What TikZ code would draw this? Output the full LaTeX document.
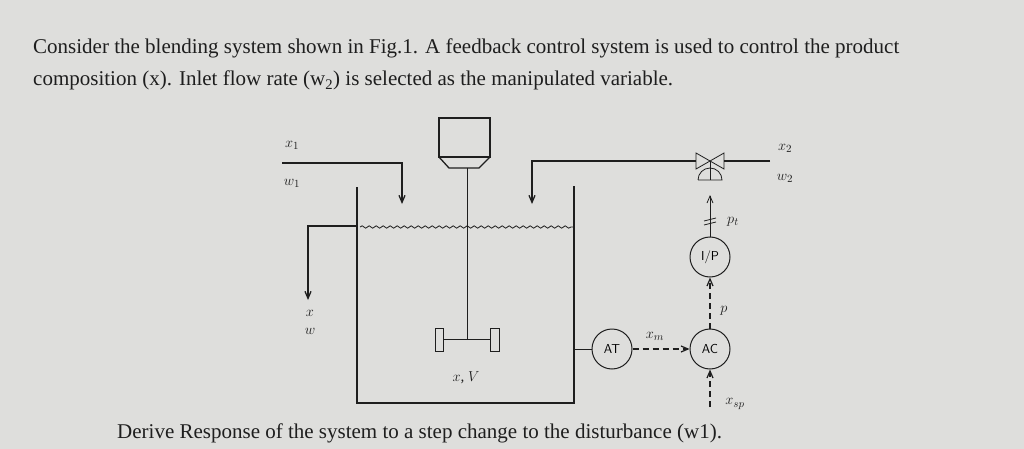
\documentclass[tikz,border=0pt]{standalone}
\usepackage{fontspec}
\setmainfont{Liberation Serif}
\usetikzlibrary{arrows.meta,decorations.pathmorphing}
\definecolor{bg}{RGB}{222,222,220}
\definecolor{ink}{RGB}{30,30,30}
\begin{document}
\begin{tikzpicture}[x=1pt,y=-1pt,
  ln/.style={draw=ink,line width=1.3pt},
  thin/.style={draw=ink,line width=0.8pt},
  arr/.style={-{Straight Barb[length=7pt,width=6pt]}},
  inst/.style={circle,draw=ink,line width=1pt,minimum size=40pt,inner sep=0pt,font=\sffamily\fontsize{13}{13}\selectfont},
  lab/.style={font=\itshape\fontsize{15}{15}\selectfont,text=ink},
  txt/.style={font=\fontsize{21}{21}\selectfont,text=ink,anchor=base west,inner sep=0pt}]
\fill[bg] (0,0) rectangle (1024,449);
\useasboundingbox (0,0) rectangle (1024,449);
\node[txt] (t1) at (33,54) {Consider the blending system shown in Fig.1. A feedback control system is used to control the product};
\node[txt] (t2) at (33,86) {composition (x). Inlet flow rate (w\textsubscript{2}) is selected as the manipulated variable.};
\node[txt] (t3) at (117,438) {Derive Response of the system to a step change to the disturbance (w1).};
% tank
\draw[ln] (357,187) -- (357,403) -- (574,403) -- (574,186);
\draw[thin,decorate,decoration={snake,amplitude=1.2pt,segment length=7pt}] (360,227) -- (573,227);
% inlet 1
\coordinate (i1a) at (282,163); \coordinate (i1b) at (402,163); \coordinate (i1c) at (402,204);
\draw[ln,arr] (i1a) -- (i1b) -- (i1c);
% outlet
\coordinate (o1) at (357,226); \coordinate (o2) at (308,226); \coordinate (o3) at (308,300);
\draw[ln,arr] (o1) -- (o2) -- (o3);
% motor & agitator
\draw[ln] (439,118) rectangle (490,157);
\draw[ln] (439,157) -- (449,168) -- (479,168) -- (490,157);
\draw[thin] (467,168) -- (467,339);
\draw[thin] (443,339) -- (490,339);
\draw[thin] (435,328) rectangle (443,351);
\draw[thin] (490,328) rectangle (499,351);
% inlet 2 with valve
\coordinate (v) at (710,161);
\coordinate (i2a) at (770,161); \coordinate (i2b) at (532,161); \coordinate (i2c) at (532,204);
\draw[ln] (i2a) -- (724,161);
\draw[ln,arr] (696,161) -- (i2b) -- (i2c);
\draw[thin] (696,153) -- (724,169) -- (724,153) -- (696,169) -- cycle;
\draw[thin] (v) -- (710,180);
\draw[thin] (698,180) -- (722,180) arc (0:-180:12);
% instruments
\node[inst] (ip) at (710,257) {I/P};
\node[inst] (ac) at (710,349) {AC};
\node[inst] (at) at (612,349) {AT};
\coordinate (wall) at (574,349);
\draw[thin] (wall) -- (at);
\draw[line width=1.2pt,dashed,dash pattern=on 6pt off 4pt,arr,draw=ink] (at) -- (ac);
\draw[line width=1.2pt,dashed,dash pattern=on 6pt off 4pt,arr,draw=ink] (ac) -- (ip);
\coordinate (sp) at (710,407);
\draw[line width=1.2pt,dashed,dash pattern=on 6pt off 4pt,arr,draw=ink] (sp) -- (ac);
\coordinate (dome) at (710,195);
\draw[thin,arr] (ip) -- (dome);
\draw[thin] (704,221) -- (716,218) (704,225) -- (716,222);
% labels
\node[lab] (lx1) at (292,145) {$x_1$};
\node[lab] (lw1) at (292,183) {$w_1$};
\node[lab] (lx2) at (785,148) {$x_2$};
\node[lab] (lw2) at (785,178) {$w_2$};
\node[lab] (lx) at (310,313) {$x$};
\node[lab] (lw) at (310,331) {$w$};
\node[lab] (lxv) at (466,378) {$x$, $V$};
\node[lab] (lpt) at (733,222) {$p_t$};
\node[lab] (lp) at (724,311) {$p$};
\node[lab] (lxm) at (655,336) {$x_m$};
\node[lab] (lxsp) at (735,404) {$x_{sp}$};
\end{tikzpicture}
\end{document}
